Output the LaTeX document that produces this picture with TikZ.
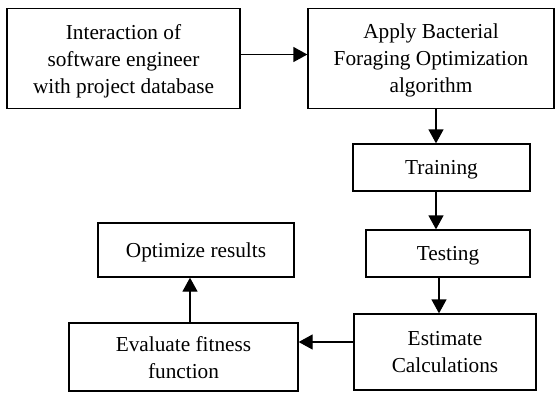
\documentclass[tikz,border=0pt]{standalone}
\usepackage{fontspec}
\setmainfont{Liberation Serif}
\usetikzlibrary{arrows.meta}
\begin{document}
\begin{tikzpicture}[x=1pt,y=-1pt,
  box/.style={draw=black,line width=1.3pt,rectangle,inner sep=0pt,align=center,
    text depth=0pt,font=\fontsize{21.3}{27}\selectfont},
  arr/.style={line width=1.3pt,-{Triangle[length=14pt,width=15pt]}}]
\useasboundingbox (0,0) rectangle (555,392);
\node[box,minimum width=233pt,minimum height=100pt] (b1) at (123.5,58.5) {Interaction of\\software engineer\\with project database};
\node[box,minimum width=246pt,minimum height=100pt] (b2) at (431,58.5) {Apply Bacterial\\Foraging Optimization\\algorithm};
\node[box,minimum width=177pt,minimum height=47pt] (tr) at (441.5,167.5) {Training};
\node[box,minimum width=164pt,minimum height=47pt] (te) at (448,253.5) {Testing};
\node[box,minimum width=182pt,minimum height=76pt] (es) at (445,352) {Estimate\\Calculations};
\node[box,minimum width=229pt,minimum height=68pt] (ev) at (183.5,357) {Evaluate fitness\\function};
\node[box,minimum width=196pt,minimum height=54pt] (op) at (196,250) {Optimize results};
\draw[arr] ([yshift=4pt]b1.east) -- ([yshift=4pt]b1.east -| b2.west);
\draw[arr] ([xshift=5pt]b2.south) -- ([xshift=5pt]b2.south |- tr.north);
\draw[arr] ([xshift=-5.5pt]tr.south) -- ([xshift=-5.5pt]tr.south |- te.north);
\draw[arr] ([xshift=-9pt]te.south) -- ([xshift=-9pt]te.south |- es.north);
\draw[arr] ([yshift=10pt]es.west) -- ([yshift=10pt]es.west -| ev.east);
\draw[arr] ([xshift=6.5pt]ev.north) -- ([xshift=6.5pt]ev.north |- op.south);
\end{tikzpicture}
\end{document}
